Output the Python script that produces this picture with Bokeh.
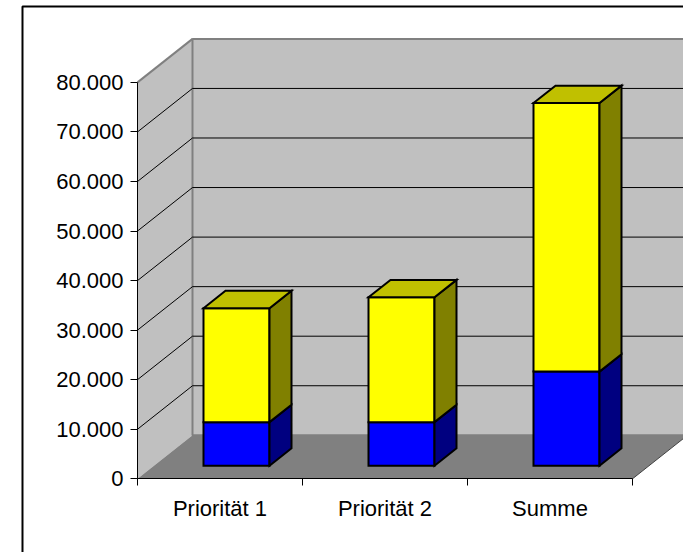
from bokeh.plotting import figure
from bokeh.models import Range1d, FixedTicker
from bokeh.embed import file_html
from bokeh.resources import INLINE

# ---- data ----
categories = ["Priorität 1", "Priorität 2", "Summe"]
blue_vals = [8800, 8800, 19000]
yellow_vals = [23000, 25200, 54200]
y_ticks = [0, 10000, 20000, 30000, 40000, 50000, 60000, 70000, 80000]
y_tick_labels = ["0", "10.000", "20.000", "30.000", "40.000", "50.000", "60.000", "70.000", "80.000"]

# ---- geometry (data units) ----
N = len(categories)
YMAX = y_ticks[-1]
DU = 1.0 / 3.0      # depth offset in category units
DV = 8780.0         # depth offset in value units
BAR_W = 0.4
D0, D1 = 0.3, 0.7   # bar depth span (fraction of full depth)

FONT = "Liberation Sans"

p = figure(width=683, height=552, output_backend="svg", toolbar_location=None,
           x_range=Range1d(-0.8303, 3.3091), y_range=Range1d(-14874, 96529),
           min_border=0)
p.outline_line_color = None
p.grid.visible = False
p.background_fill_color = "white"
p.border_fill_color = "white"

# outer chart border (left + top)
bx = -0.697
btop = 95318
p.line([bx, bx, 3.4], [-16000, btop, btop], line_color="black", line_width=2)

# left wall
p.patch([0, DU, DU, 0], [0, DV, YMAX + DV, YMAX], fill_color="#C0C0C0", line_color=None)
# back wall
p.patch([DU, N + DU, N + DU, DU], [DV, DV, YMAX + DV, YMAX + DV], fill_color="#C0C0C0",
        line_color="#808080", line_width=2)
# floor
p.patch([0, N, N + DU, DU], [0, 0, DV, DV], fill_color="#808080", line_color=None)
p.line([N, N + DU], [0, DV], line_color="#404040", line_width=1)
# left wall top edge
p.line([0, DU], [YMAX, YMAX + DV], line_color="#808080", line_width=2)

# gridlines
gxs, gys = [], []
for v in y_ticks[1:-1]:
    gxs.append([0, DU, N + DU])
    gys.append([v, v + DV, v + DV])
p.multi_line(gxs, gys, line_color="black", line_width=1)

# bars
front_l, front_r, front_b, front_t, front_c = [], [], [], [], []
side_x, side_y, side_c = [], [], []
top_x, top_y, top_c = [], [], []
for i in range(N):
    base = 0
    L = i + 0.5 - BAR_W / 2 + D0 * DU
    R = i + 0.5 + BAR_W / 2 + D0 * DU
    ddu = (D1 - D0) * DU
    ddv = (D1 - D0) * DV
    segs = [(blue_vals[i], "#0000FF", "#000080", "#0000C0"),
            (yellow_vals[i], "#FFFF00", "#808000", "#C0C000")]
    for k, (val, cf, cs, ct) in enumerate(segs):
        b = base + D0 * DV
        t = base + val + D0 * DV
        front_l.append(L); front_r.append(R); front_b.append(b); front_t.append(t); front_c.append(cf)
        side_x.append([R, R + ddu, R + ddu, R]); side_y.append([b, b + ddv, t + ddv, t]); side_c.append(cs)
        if k == len(segs) - 1:
            top_x.append([L, L + ddu, R + ddu, R]); top_y.append([t, t + ddv, t + ddv, t]); top_c.append(ct)
        base += val

p.quad(left=front_l, right=front_r, bottom=front_b, top=front_t, fill_color=front_c,
       line_color="black", line_width=2, line_join="miter")
p.patches(side_x, side_y, fill_color=side_c, line_color="black", line_width=2, line_join="miter")
p.patches(top_x, top_y, fill_color=top_c, line_color="black", line_width=2, line_join="miter")

# axes
yax = p.yaxis[0]
yax.fixed_location = 0
yax.ticker = FixedTicker(ticks=y_ticks)
yax.major_label_overrides = {t: l for t, l in zip(y_ticks, y_tick_labels)}
yax.bounds = (0, YMAX)
yax.major_tick_in = 0
yax.major_tick_out = 7
yax.minor_tick_line_color = None
yax.axis_line_color = "black"
yax.major_label_text_font = FONT
yax.major_label_text_font_size = "22px"
yax.major_label_text_color = "black"
yax.major_label_standoff = 7

xax = p.xaxis[0]
xax.fixed_location = 0
centers = [i + 0.5 for i in range(N)]
xax.ticker = FixedTicker(ticks=centers, minor_ticks=list(range(N + 1)))
xax.major_label_overrides = {c: n for c, n in zip(centers, categories)}
xax.bounds = (0, N)
xax.major_tick_line_color = None
xax.minor_tick_in = 0
xax.minor_tick_out = 7
xax.minor_tick_line_color = "black"
xax.axis_line_color = "black"
xax.major_label_text_font = FONT
xax.major_label_text_font_size = "22px"
xax.major_label_text_color = "black"
xax.major_label_standoff = 10

open("out.html", "w").write(file_html(p, INLINE))
